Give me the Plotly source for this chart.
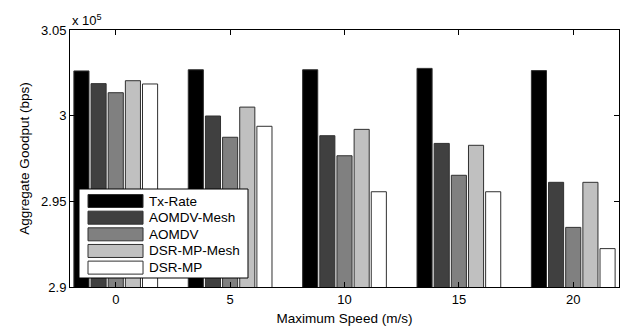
import plotly.graph_objects as go

speeds = [0, 5, 10, 15, 20]
series_names = ["Tx-Rate", "AOMDV-Mesh", "AOMDV", "DSR-MP-Mesh", "DSR-MP"]
# Aggregate goodput in units of 10^5 bps
tx_rate = [3.0261, 3.0268, 3.0268, 3.0276, 3.0263]
aomdv_mesh = [3.0187, 2.9998, 2.9883, 2.9838, 2.9611]
aomdv = [3.0134, 2.9874, 2.9766, 2.9652, 2.9348]
dsr_mp_mesh = [3.0204, 3.0050, 2.9920, 2.9827, 2.9611]
dsr_mp = [3.0185, 2.9938, 2.9556, 2.9556, 2.9224]
colors = ["#000000", "#404040", "#808080", "#c0c0c0", "#ffffff"]
edge = "#303030"

fig = go.Figure()
for name, vals, col in zip(series_names, [tx_rate, aomdv_mesh, aomdv, dsr_mp_mesh, dsr_mp], colors):
    fig.add_trace(go.Bar(x=speeds, y=vals, name=name, showlegend=False,
                         marker=dict(color=col, line=dict(color=edge, width=1))))

# Custom MATLAB-style legend (wide swatches) in paper coordinates
shapes = [dict(type="rect", xref="paper", yref="paper", x0=0.0164, x1=0.3242, y0=0.035, y1=0.3813,
               fillcolor="white", line=dict(color="black", width=1), layer="above")]
annotations = []
row_top, row_step, sw_half = 0.3346, 0.0648, 0.0253
for i, (name, col) in enumerate(zip(series_names, colors)):
    yc = row_top - i * row_step
    shapes.append(dict(type="rect", xref="paper", yref="paper", x0=0.0328, x1=0.1330,
                       y0=yc - sw_half, y1=yc + sw_half, fillcolor=col,
                       line=dict(color=edge, width=1), layer="above"))
    annotations.append(dict(text=name, xref="paper", yref="paper", x=0.1400, y=yc,
                            xanchor="left", yanchor="middle", showarrow=False, font=dict(size=13.5)))
annotations.append(dict(text="x 10<sup>5</sup>", xref="paper", yref="paper", x=0, y=1,
                        xanchor="left", yanchor="bottom", showarrow=False, font=dict(size=13)))

font = "Liberation Sans, Arial, Helvetica, sans-serif"
fig.update_layout(
    width=628, height=333,
    margin=dict(l=70, r=9, t=30, b=46),
    paper_bgcolor="white", plot_bgcolor="white",
    barmode="group", bargap=0.25, bargroupgap=0.12,
    font=dict(family=font, size=13, color="black"),
    xaxis=dict(range=[-2, 22], tickvals=speeds, ticktext=[str(s) for s in speeds],
               ticks="inside", ticklen=5, tickcolor="black", showline=True, linecolor="black",
               linewidth=1, mirror="ticks", showgrid=False, zeroline=False,
               tickfont=dict(size=13),
               title=dict(text="Maximum Speed (m/s)", standoff=7, font=dict(size=13.5))),
    yaxis=dict(range=[2.9, 3.05], tickvals=[2.9, 2.95, 3.0, 3.05], ticktext=["2.9", "2.95", "3", "3.05"],
               ticks="inside", ticklen=5, tickcolor="black", showline=True, linecolor="black",
               linewidth=1, mirror="ticks", showgrid=False, zeroline=False,
               tickfont=dict(size=13),
               title=dict(text="Aggregate Goodput (bps)", standoff=8, font=dict(size=13.5))),
    shapes=shapes,
    annotations=annotations,
)
fig.write_html("out.html", config={"displayModeBar": False},
               post_script="document.body.style.margin='0';document.body.style.overflow='hidden';")
